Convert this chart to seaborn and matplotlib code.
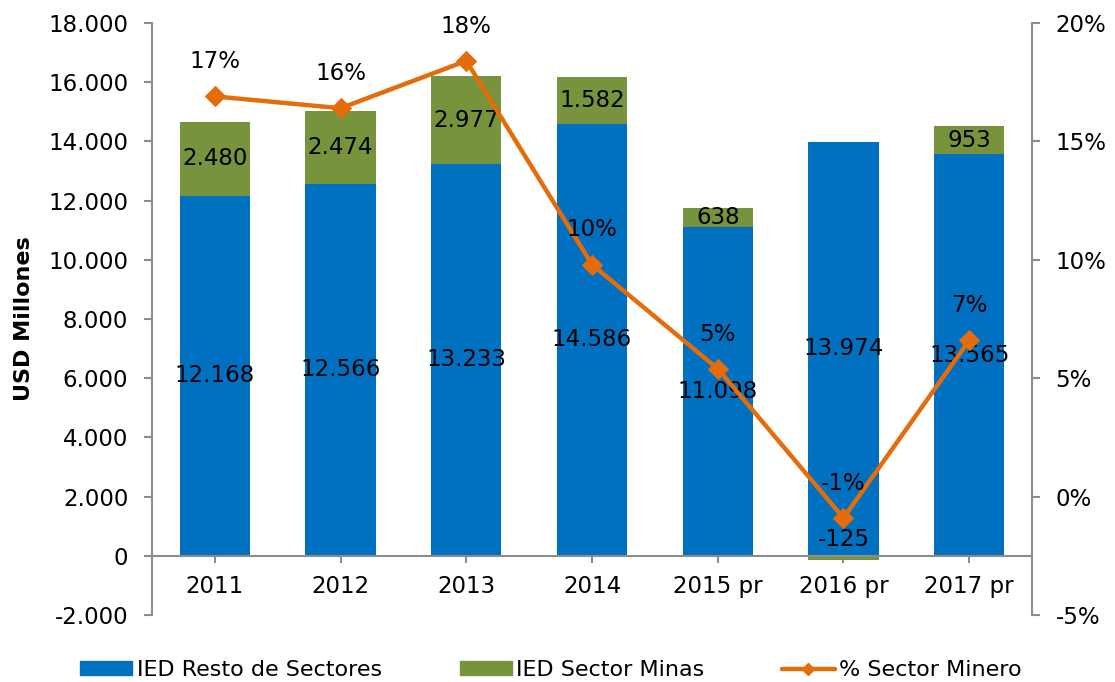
import numpy as np
import pandas as pd
import matplotlib
matplotlib.use("Agg")
import matplotlib.pyplot as plt
import matplotlib.ticker as mticker
from matplotlib.patches import Patch
from matplotlib.lines import Line2D
import seaborn as sns

years = ["2011", "2012", "2013", "2014", "2015 pr", "2016 pr", "2017 pr"]
resto = [12168, 12566, 13233, 14586, 11098, 13974, 13565]
minas = [2480, 2474, 2977, 1582, 638, -125, 953]
pct_minero = [16.9, 16.4, 18.4, 9.8, 5.4, -0.9, 6.6]
pct_labels = ["17%", "16%", "18%", "10%", "5%", "-1%", "7%"]

BLUE = "#0070C0"
GREEN = "#77933C"
ORANGE = "#E46C0A"
GRAY = "#8C8C8C"

sns.set_theme(style="white")
plt.rcParams["font.family"] = ["DejaVu Sans"]

df = pd.DataFrame({"year": years, "resto": resto, "minas": minas})
green_bottom = np.where(np.array(minas) >= 0, np.array(resto), 0)

fig = plt.figure(figsize=(11.15, 6.82), dpi=100)
ax = fig.add_axes([0.1363, 0.0982, 0.7893, 0.8681])

sns.barplot(data=df, x="year", y="resto", color=BLUE, width=0.56,
            saturation=1, ax=ax, order=years, linewidth=0)
sns.barplot(data=df, x="year", y="minas", color=GREEN, width=0.56,
            saturation=1, ax=ax, order=years, bottom=green_bottom, linewidth=0)

def fmt_thousands(v):
    s = f"{abs(int(round(v))):,}".replace(",", ".")
    return ("-" if v < 0 else "") + s

fs = 16.5
for i, (r, m) in enumerate(zip(resto, minas)):
    ax.text(i, r / 2, fmt_thousands(r), ha="center", va="center", fontsize=fs, color="black")
    if m >= 0:
        ax.text(i, r + m / 2, fmt_thousands(m), ha="center", va="center", fontsize=fs, color="black")
    else:
        ax.text(i, 550, fmt_thousands(m), ha="center", va="center", fontsize=fs, color="black")

ax.set_ylim(-2000, 18000)
ax.set_xlim(-0.5, len(years) - 0.5)
ax.yaxis.set_major_locator(mticker.MultipleLocator(2000))
ax.yaxis.set_major_formatter(mticker.FuncFormatter(lambda v, p: fmt_thousands(v)))
ax.set_xlabel("")
ax.set_ylabel("USD Millones", fontsize=16, fontweight="bold", labelpad=10, color="black")

for s in ["top", "right"]:
    ax.spines[s].set_visible(False)
ax.spines["left"].set_color(GRAY)
ax.spines["left"].set_linewidth(1.5)
ax.spines["bottom"].set_position(("data", 0))
ax.spines["bottom"].set_color(GRAY)
ax.spines["bottom"].set_linewidth(1.5)
ax.tick_params(axis="y", which="major", direction="out", length=6, width=1.5,
               color=GRAY, left=True, labelsize=fs, pad=11, labelcolor="black")
ax.tick_params(axis="x", which="major", direction="out", length=5, width=1.5,
               color=GRAY, bottom=True, labelsize=fs, pad=9, labelcolor="black")

ax2 = ax.twinx()
sns.lineplot(x=np.arange(len(years)), y=pct_minero, ax=ax2, color=ORANGE,
             linewidth=3.2, marker="D", markersize=10, markeredgecolor=ORANGE)
ax2.set_ylim(-5, 20)
ax2.yaxis.set_major_locator(mticker.MultipleLocator(5))
ax2.yaxis.set_major_formatter(mticker.FuncFormatter(lambda v, p: f"{int(round(v))}%"))
for s in ["top", "left", "bottom"]:
    ax2.spines[s].set_visible(False)
ax2.spines["right"].set_color(GRAY)
ax2.spines["right"].set_linewidth(1.5)
ax2.tick_params(axis="y", direction="out", length=6, width=1.5, color=GRAY,
                right=True, labelsize=fs, pad=11, labelcolor="black")
ax2.grid(False)
ax.grid(False)

for i, (p, lab) in enumerate(zip(pct_minero, pct_labels)):
    ax2.annotate(lab, (i, p), xytext=(0, 25), textcoords="offset points",
                 ha="center", va="center", fontsize=fs, color="black")

handles = [
    Patch(facecolor=BLUE, edgecolor=BLUE),
    Patch(facecolor=GREEN, edgecolor=GREEN),
    Line2D([0], [0], color=ORANGE, linewidth=3.2, marker="D", markersize=6),
]
labels = ["IED Resto de Sectores", "IED Sector Minas", "% Sector Minero"]
fig.legend(handles, labels, loc="center", bbox_to_anchor=(0.494, 0.0176),
           ncol=3, frameon=False, fontsize=16, handlelength=2.35, handleheight=0.6,
           handletextpad=0.2, columnspacing=3.5, labelcolor="black")

fig.savefig("out.png", dpi=100)
